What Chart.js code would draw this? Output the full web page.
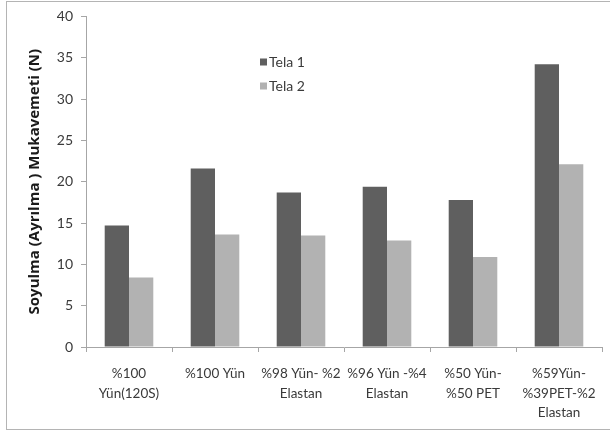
<!DOCTYPE html>
<html>
<head>
<meta charset="utf-8">
<script src="https://cdn.jsdelivr.net/npm/chart.js@4"></script>
<style>
  html, body { margin: 0; padding: 0; background: #ffffff; }
  #wrap { position: relative; width: 610px; height: 433px; overflow: hidden; }
  #frame {
    position: absolute; left: 6px; top: 1px; width: 620px; height: 429px;
    border: 1.5px solid #b4b4b4; box-sizing: border-box;
  }
  canvas { position: absolute; left: 0; top: 0; }
</style>
</head>
<body>
<div id="wrap">
  <div id="frame"></div>
  <canvas id="c" width="610" height="433"></canvas>
</div>
<script>
// Fabric compositions (multi-line category labels)
const categories = [
  ['%100', 'Yün(120S)'],
  ['%100 Yün'],
  ['%98 Yün- %2', 'Elastan'],
  ['%96 Yün -%4', 'Elastan'],
  ['%50 Yün-', '%50 PET'],
  ['%59Yün-', '%39PET-%2', 'Elastan']
];

// Peel (separation) strength in newtons
const tela1 = [14.7, 21.6, 18.7, 19.4, 17.8, 34.2];
const tela2 = [8.4, 13.6, 13.5, 12.9, 10.9, 22.1];

const seriesNames = ['Tela 1', 'Tela 2'];
const yTicks = [0, 5, 10, 15, 20, 25, 30, 35, 40];

const FONT = 'Lato, "Open Sans", sans-serif';
const AXIS_GRAY = '#a6a6a6';
const TEXT = '#3a3a3a';

// Legend drawn inside the plot area, stacked vertically
const innerLegend = {
  id: 'innerLegend',
  afterDraw(chart) {
    const ctx = chart.ctx;
    ctx.save();
    ctx.font = '14px ' + FONT;
    ctx.textBaseline = 'middle';
    chart.data.datasets.forEach((ds, i) => {
      const y = 62 + i * 24;
      ctx.fillStyle = ds.backgroundColor;
      ctx.fillRect(260, y - 3.5, 7, 7);
      ctx.fillStyle = TEXT;
      ctx.fillText(ds.label, 269, y + 0.5);
    });
    ctx.restore();
  }
};

new Chart(document.getElementById('c'), {
  type: 'bar',
  data: {
    labels: categories,
    datasets: [
      { label: seriesNames[0], data: tela1, backgroundColor: '#5f5f5f', borderWidth: 0 },
      { label: seriesNames[1], data: tela2, backgroundColor: '#b2b2b2', borderWidth: 0 }
    ]
  },
  options: {
    responsive: false,
    animation: false,
    devicePixelRatio: 1,
    layout: { padding: { left: 0, top: 16, right: 8, bottom: 0 } },
    plugins: {
      legend: { display: false },
      tooltip: { enabled: false }
    },
    datasets: {
      bar: { categoryPercentage: 0.565, barPercentage: 1.0 }
    },
    scales: {
      x: {
        grid: {
          display: true, drawOnChartArea: false, drawTicks: true,
          tickLength: 5, color: AXIS_GRAY, lineWidth: 1, offset: true
        },
        border: { display: true, color: AXIS_GRAY, width: 1 },
        ticks: {
          color: TEXT, padding: 12, maxRotation: 0, autoSkip: false,
          font: { family: FONT, size: 13.5, lineHeight: 1.45 }
        },
        afterFit(scale) { scale.height = 86; }
      },
      y: {
        min: 0, max: 40,
        afterBuildTicks(scale) { scale.ticks = yTicks.map(v => ({ value: v })); },
        grid: {
          display: true, drawOnChartArea: false, drawTicks: true,
          tickLength: 5, color: AXIS_GRAY, lineWidth: 1
        },
        border: { display: true, color: AXIS_GRAY, width: 1 },
        ticks: {
          color: TEXT, padding: 8,
          font: { family: FONT, size: 14 }
        },
        title: {
          display: true,
          text: 'Soyulma (Ayrılma ) Mukavemeti (N)',
          color: '#1a1a1a',
          padding: { top: 26, bottom: 0 },
          font: { family: '"Open Sans", sans-serif', size: 15, weight: 'bold' }
        },
        afterFit(scale) { scale.width = 86; }
      }
    }
  },
  plugins: [innerLegend]
});
</script>
</body>
</html>
